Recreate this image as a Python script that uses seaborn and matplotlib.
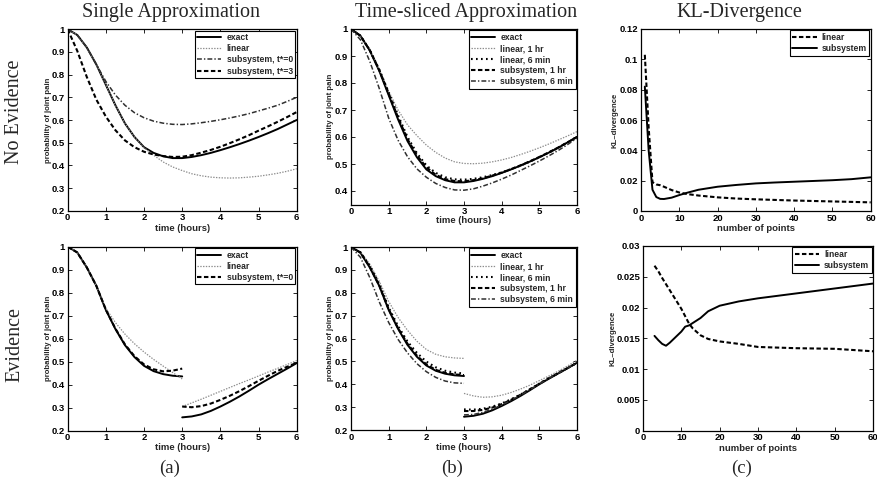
import matplotlib
matplotlib.use("Agg")
import matplotlib.pyplot as plt
import seaborn as sns
from matplotlib.ticker import FuncFormatter

# ---------------- data ----------------
t_full = [0, 0.25, 0.5, 0.75, 1, 1.25, 1.5, 1.75, 2, 2.25, 2.5, 2.75, 3,
          3.25, 3.5, 3.75, 4, 4.25, 4.5, 4.75, 5, 5.25, 5.5, 5.75, 6]
t_seg1 = [0, 0.25, 0.5, 0.75, 1, 1.25, 1.5, 1.75, 2, 2.25, 2.5, 2.75, 3]
t_seg2 = [3, 3.25, 3.5, 3.75, 4, 4.25, 4.5, 4.75, 5, 5.25, 5.5, 5.75, 6]

# No evidence, single approximation (a)
exact_top = [1.000, 0.975, 0.920, 0.845, 0.755, 0.665, 0.585, 0.525, 0.480, 0.455, 0.440, 0.432, 0.432,
             0.437, 0.445, 0.455, 0.467, 0.480, 0.494, 0.509, 0.525, 0.542, 0.560, 0.580, 0.600]
linear_top = [1.000, 0.975, 0.920, 0.845, 0.755, 0.665, 0.585, 0.525, 0.478, 0.445, 0.415, 0.393, 0.377,
              0.363, 0.354, 0.348, 0.345, 0.344, 0.345, 0.348, 0.352, 0.358, 0.365, 0.374, 0.385]
subt0_top = [1.000, 0.975, 0.920, 0.845, 0.770, 0.710, 0.665, 0.632, 0.610, 0.595, 0.586, 0.581, 0.580,
             0.583, 0.588, 0.594, 0.601, 0.609, 0.618, 0.628, 0.640, 0.652, 0.665, 0.682, 0.700]
subt3_top = [1.000, 0.905, 0.790, 0.690, 0.615, 0.555, 0.510, 0.480, 0.460, 0.448, 0.441, 0.437, 0.438,
             0.445, 0.456, 0.468, 0.482, 0.498, 0.515, 0.533, 0.553, 0.572, 0.592, 0.613, 0.635]

# No evidence, time-sliced approximation (b)
lin1h_top = [1.000, 0.975, 0.925, 0.850, 0.770, 0.700, 0.645, 0.605, 0.570, 0.543, 0.522, 0.508, 0.502,
             0.501, 0.503, 0.508, 0.515, 0.524, 0.535, 0.547, 0.560, 0.574, 0.589, 0.604, 0.620]
lin6m_top = [1.000, 0.975, 0.922, 0.850, 0.765, 0.680, 0.600, 0.540, 0.495, 0.467, 0.451, 0.443, 0.442,
             0.445, 0.451, 0.459, 0.469, 0.481, 0.494, 0.509, 0.525, 0.542, 0.560, 0.580, 0.600]
sub1h_top = [1.000, 0.975, 0.921, 0.848, 0.760, 0.672, 0.592, 0.532, 0.488, 0.460, 0.444, 0.437, 0.436,
             0.440, 0.447, 0.457, 0.468, 0.481, 0.495, 0.510, 0.526, 0.543, 0.561, 0.580, 0.600]
sub6m_top = [1.000, 0.960, 0.880, 0.780, 0.670, 0.588, 0.527, 0.482, 0.451, 0.428, 0.413, 0.404, 0.403,
             0.408, 0.418, 0.430, 0.444, 0.459, 0.476, 0.493, 0.511, 0.530, 0.550, 0.572, 0.596]

# Evidence, single approximation (a)
exact_ev1 = [1.000, 0.975, 0.910, 0.830, 0.725, 0.642, 0.572, 0.520, 0.482, 0.459, 0.446, 0.439, 0.436]
exact_ev2 = [0.258, 0.262, 0.271, 0.286, 0.305, 0.326, 0.349, 0.374, 0.400, 0.424, 0.447, 0.470, 0.494]
linear_ev1 = [1.000, 0.975, 0.910, 0.830, 0.732, 0.670, 0.620, 0.578, 0.542, 0.510, 0.481, 0.453, 0.425]
linear_ev2 = [0.305, 0.321, 0.337, 0.354, 0.371, 0.388, 0.405, 0.421, 0.438, 0.455, 0.471, 0.488, 0.505]
subt0_ev1 = [1.000, 0.975, 0.910, 0.830, 0.726, 0.644, 0.575, 0.524, 0.488, 0.467, 0.458, 0.461, 0.470]
subt0_ev2 = [0.305, 0.302, 0.307, 0.318, 0.334, 0.352, 0.372, 0.394, 0.417, 0.439, 0.460, 0.478, 0.495]

# Evidence, time-sliced approximation (b)
lin1h_ev1 = [1.000, 0.978, 0.925, 0.850, 0.762, 0.692, 0.636, 0.588, 0.552, 0.531, 0.520, 0.515, 0.513]
lin1h_ev2 = [0.360, 0.349, 0.343, 0.345, 0.352, 0.364, 0.379, 0.396, 0.416, 0.436, 0.457, 0.480, 0.505]
lin6m_ev1 = [1.000, 0.977, 0.918, 0.838, 0.736, 0.654, 0.587, 0.537, 0.499, 0.474, 0.459, 0.451, 0.447]
lin6m_ev2 = [0.290, 0.289, 0.293, 0.302, 0.316, 0.334, 0.355, 0.378, 0.403, 0.427, 0.449, 0.471, 0.494]
sub1h_ev1 = [1.000, 0.976, 0.913, 0.832, 0.728, 0.645, 0.577, 0.525, 0.487, 0.463, 0.450, 0.443, 0.440]
sub1h_ev2 = [0.283, 0.283, 0.288, 0.298, 0.313, 0.332, 0.354, 0.378, 0.402, 0.426, 0.448, 0.471, 0.494]
sub6m_ev1 = [1.000, 0.955, 0.866, 0.760, 0.670, 0.596, 0.537, 0.490, 0.455, 0.430, 0.414, 0.406, 0.404]
sub6m_ev2 = [0.266, 0.268, 0.277, 0.291, 0.309, 0.330, 0.352, 0.376, 0.401, 0.425, 0.448, 0.470, 0.494]

# KL divergence (c)
n_top = [1, 2, 3, 4, 5, 6, 8, 10, 12, 15, 20, 25, 30, 35, 40, 45, 50, 55, 60]
kl_lin_top = [0.103, 0.055, 0.019, 0.0175, 0.017, 0.016, 0.0138, 0.0122, 0.0112, 0.0102, 0.0090, 0.0082,
              0.0077, 0.0073, 0.0069, 0.0066, 0.0063, 0.0060, 0.0057]
kl_sub_top = [0.082, 0.040, 0.014, 0.0092, 0.0080, 0.0079, 0.0088, 0.0105, 0.0120, 0.0140, 0.0160, 0.0172,
              0.0182, 0.0188, 0.0193, 0.0198, 0.0203, 0.0210, 0.0222]
n_bot = [3, 4, 5, 6, 7, 8, 9, 10, 11, 12, 13, 15, 17, 20, 25, 30, 40, 50, 60]
kl_lin_bot = [0.0268, 0.0259, 0.0248, 0.0238, 0.0228, 0.0218, 0.0208, 0.0198, 0.0186, 0.0174, 0.0166, 0.0155,
              0.0149, 0.0145, 0.0141, 0.0136, 0.0134, 0.0133, 0.0129]
kl_sub_bot = [0.0154, 0.0147, 0.0141, 0.0138, 0.0143, 0.0149, 0.0155, 0.0161, 0.0169, 0.0171, 0.0175, 0.0183,
              0.0194, 0.0203, 0.0210, 0.0215, 0.0223, 0.0231, 0.0239]

hour_ticks = [0, 1, 2, 3, 4, 5, 6]
prob_ticks = [0.2, 0.3, 0.4, 0.5, 0.6, 0.7, 0.8, 0.9, 1.0]
n_ticks = [0, 10, 20, 30, 40, 50, 60]
kl_ticks_top = [0, 0.02, 0.04, 0.06, 0.08, 0.1, 0.12]
kl_ticks_bot = [0, 0.005, 0.01, 0.015, 0.02, 0.025, 0.03]

col_titles = ["Single Approximation", "Time-sliced Approximation", "KL-Divergence"]
row_titles = ["No Evidence", "Evidence"]
sub_labels = ["(a)", "(b)", "(c)"]

# ---------------- style ----------------
sns.set_theme(style="ticks")
plt.rcParams['font.family'] = ['Liberation Sans', 'DejaVu Sans']
plt.rcParams['lines.scale_dashes'] = False

STY = {
    'solid': dict(color='black', linewidth=1.4, linestyle='-'),
    'thin_dot': dict(color='#8c8c8c', linewidth=0.9, linestyle=(0, (1, 1))),
    'big_dot': dict(color='black', linewidth=1.5, linestyle=(0, (1.2, 2.4))),
    'dash': dict(color='black', linewidth=1.5, linestyle=(0, (3.2, 1.8))),
    'dashdot': dict(color='#303030', linewidth=1.1, linestyle=(0, (3.5, 1.5, 1.0, 1.5))),
}

W, H = 878, 482
fig = plt.figure(figsize=(W / 100, H / 100), dpi=100)


def add_ax(l, r, t, b):
    return fig.add_axes([l / W, 1 - b / H, (r - l) / W, (b - t) / H])


def draw(ax, x, y, style, label=None):
    sns.lineplot(x=x, y=y, ax=ax, label=label, legend=False, estimator=None,
                 errorbar=None, sort=False, **STY[style])


fmt_g = FuncFormatter(lambda v, p: f"{v:g}")


def finish(ax, xlim, ylim, xt, yt, xlabel, ylabel, ylab_x, xlab_y):
    ax.set_xlim(xlim)
    ax.set_ylim(ylim)
    ax.set_xticks(xt)
    ax.set_yticks(yt)
    ax.xaxis.set_major_formatter(fmt_g)
    ax.yaxis.set_major_formatter(fmt_g)
    ax.tick_params(direction='in', top=True, right=True, length=3, width=0.6,
                   labelsize=6.8, pad=2, colors='black')
    for lab in ax.get_xticklabels() + ax.get_yticklabels():
        lab.set_fontweight('bold')
    for s in ax.spines.values():
        s.set_visible(True)
        s.set_color('black')
        s.set_linewidth(0.9)
    ax.set_xlabel(xlabel, fontsize=6.8, fontweight='bold', va='center')
    ax.set_ylabel(ylabel, fontsize=5.6, fontweight='bold', va='center')
    ax.xaxis.set_label_coords(0.5, xlab_y)
    ax.yaxis.set_label_coords(ylab_x, 0.5)
    ax.set_facecolor('white')
    leg = ax.legend(loc='upper right', frameon=True, fancybox=False, framealpha=1,
                    edgecolor='black', fontsize=6.2, borderaxespad=0.15, handlelength=2.8,
                    labelspacing=0.25, borderpad=0.3, handletextpad=0.6)
    leg.get_frame().set_linewidth(0.8)
    for txt in leg.get_texts():
        txt.set_fontweight('bold')


# (a) top
ax = add_ax(67.7, 296.7, 29.3, 210.7)
draw(ax, t_full, exact_top, 'solid', 'exact')
draw(ax, t_full, linear_top, 'thin_dot', 'linear')
draw(ax, t_full, subt0_top, 'dashdot', 'subsystem, t*=0')
draw(ax, t_full, subt3_top, 'dash', 'subsystem, t*=3')
finish(ax, (0, 6), (0.2, 1.0), hour_ticks, prob_ticks, 'time (hours)',
       'probability of joint pain', -0.085, -0.1)

# (b) top
ax = add_ax(351, 577, 29, 204.5)
draw(ax, t_full, exact_top, 'solid', 'exact')
draw(ax, t_full, lin1h_top, 'thin_dot', 'linear, 1 hr')
draw(ax, t_full, lin6m_top, 'big_dot', 'linear, 6 min')
draw(ax, t_full, sub1h_top, 'dash', 'subsystem, 1 hr')
draw(ax, t_full, sub6m_top, 'dashdot', 'subsystem, 6 min')
finish(ax, (0, 6), (0.35, 1.0), hour_ticks, prob_ticks[2:], 'time (hours)',
       'probability of joint pain', -0.09, -0.09)

# (c) top
ax = add_ax(641, 870.7, 29, 211)
draw(ax, n_top, kl_lin_top, 'dash', 'linear')
draw(ax, n_top, kl_sub_top, 'solid', 'subsystem')
finish(ax, (0, 60), (0, 0.12), n_ticks, kl_ticks_top, 'number of points',
       'KL–divergence', -0.115, -0.095)

# (a) bottom
ax = add_ax(67.7, 296.7, 246.7, 430.7)
draw(ax, t_seg1, exact_ev1, 'solid', 'exact')
draw(ax, t_seg1, linear_ev1, 'thin_dot', 'linear')
draw(ax, t_seg1, subt0_ev1, 'dash', 'subsystem, t*=0')
draw(ax, t_seg2, exact_ev2, 'solid')
draw(ax, t_seg2, linear_ev2, 'thin_dot')
draw(ax, t_seg2, subt0_ev2, 'dash')
finish(ax, (0, 6), (0.2, 1.0), hour_ticks, prob_ticks, 'time (hours)',
       'probability of joint pain', -0.085, -0.094)

# (b) bottom
ax = add_ax(351, 577, 247, 430)
draw(ax, t_seg1, exact_ev1, 'solid', 'exact')
draw(ax, t_seg1, lin1h_ev1, 'thin_dot', 'linear, 1 hr')
draw(ax, t_seg1, lin6m_ev1, 'big_dot', 'linear, 6 min')
draw(ax, t_seg1, sub1h_ev1, 'dash', 'subsystem, 1 hr')
draw(ax, t_seg1, sub6m_ev1, 'dashdot', 'subsystem, 6 min')
draw(ax, t_seg2, exact_ev2, 'solid')
draw(ax, t_seg2, lin1h_ev2, 'thin_dot')
draw(ax, t_seg2, lin6m_ev2, 'big_dot')
draw(ax, t_seg2, sub1h_ev2, 'dash')
draw(ax, t_seg2, sub6m_ev2, 'dashdot')
finish(ax, (0, 6), (0.2, 1.0), hour_ticks, prob_ticks, 'time (hours)',
       'probability of joint pain', -0.09, -0.094)

# (c) bottom
ax = add_ax(643, 873, 246, 430.7)
draw(ax, n_bot, kl_lin_bot, 'dash', 'linear')
draw(ax, n_bot, kl_sub_bot, 'solid', 'subsystem')
finish(ax, (0, 60), (0, 0.03), n_ticks, kl_ticks_bot, 'number of points',
       'KL–divergence', -0.13, -0.094)

# titles and labels
serif = ['Liberation Serif', 'DejaVu Serif']
for x, s in zip([171, 466, 739], col_titles):
    fig.text(x / W, 1 - 12 / H, s, ha='center', va='center', fontsize=14.5, family=serif)
for y, s in zip([112, 345], row_titles):
    fig.text(15 / W, 1 - y / H, s, ha='center', va='center', rotation=90, fontsize=14.5, family=serif)
for x, s in zip([170, 452, 742], sub_labels):
    fig.text(x / W, 1 - 468 / H, s, ha='center', va='center', fontsize=13.5, family=serif)

fig.savefig('out.png', dpi=100, facecolor='white')
